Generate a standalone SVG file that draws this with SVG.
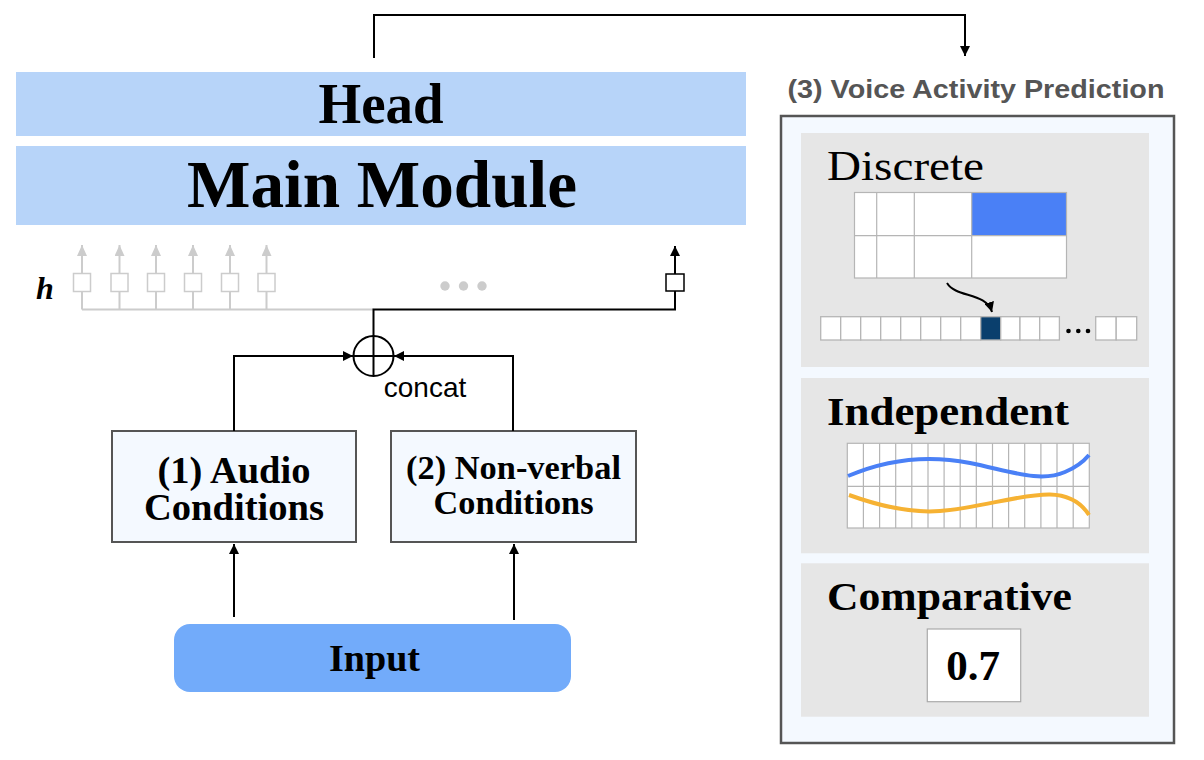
<svg xmlns="http://www.w3.org/2000/svg" width="1204" height="760" viewBox="0 0 1204 760">
  <style>
    .serif { font-family: "Liberation Serif", "Times New Roman", serif; }
    .sans { font-family: "Liberation Sans", Arial, sans-serif; }
    .bar { fill: #b7d4f9; }
    .cond { fill: #f4f9ff; stroke: #555555; stroke-width: 2; }
    .sub { fill: #e6e6e6; }
    .cell { fill: #ffffff; stroke: #b5b5b5; stroke-width: 1.3; }
    .gline { stroke: #b5b5b5; stroke-width: 1.2; fill: none; }
    .conn { stroke: #000000; stroke-width: 2; fill: none; }
    .gconn { stroke: #cccccc; stroke-width: 2; fill: none; }
    .gbox { fill: #ffffff; stroke: #cccccc; stroke-width: 1.5; }
    .bigtxt { font-weight: bold; fill: #000000; text-anchor: middle; }
  </style>
  <defs>
    <marker id="arr" viewBox="0 0 10 10" refX="10" refY="5" markerWidth="10" markerHeight="10" markerUnits="userSpaceOnUse" orient="auto">
      <path d="M0,0 L10,5 L0,10 Z" fill="#000000"/>
    </marker>
    <marker id="garr" viewBox="0 0 11 10" refX="11" refY="5" markerWidth="11" markerHeight="10" markerUnits="userSpaceOnUse" orient="auto">
      <path d="M0,0 L11,5 L0,10 Z" fill="#cccccc"/>
    </marker>
  </defs>

  <!-- Head -->
  <g id="head">
    <rect class="bar" x="16" y="72" width="730" height="64"/>
    <text class="serif bigtxt" x="381" y="123" font-size="56" textLength="125" lengthAdjust="spacingAndGlyphs">Head</text>
  </g>

  <!-- Main Module -->
  <g id="main-module">
    <rect class="bar" x="16" y="146" width="730" height="79"/>
    <text class="serif bigtxt" x="382" y="207" font-size="67" textLength="390" lengthAdjust="spacingAndGlyphs">Main Module</text>
  </g>

  <!-- hidden states -->
  <g id="hidden-states">
    <text class="serif" x="36" y="299" font-size="32" font-style="italic" font-weight="bold">h</text>
    <rect class="gbox" x="73.5" y="273.5" width="17" height="18"/>
    <rect class="gbox" x="111" y="273.5" width="17" height="18"/>
    <rect class="gbox" x="147.5" y="273.5" width="17" height="18"/>
    <rect class="gbox" x="184.5" y="273.5" width="17" height="18"/>
    <rect class="gbox" x="221.5" y="273.5" width="17" height="18"/>
    <rect class="gbox" x="258" y="273.5" width="17" height="18"/>
    <circle cx="445" cy="286" r="4.7" fill="#cccccc"/>
    <circle cx="463.5" cy="286" r="4.7" fill="#cccccc"/>
    <circle cx="482" cy="286" r="4.7" fill="#cccccc"/>
    <rect x="666" y="274" width="18" height="17" fill="#ffffff" stroke="#000000" stroke-width="1.5"/>
  </g>

  <!-- concat -->
  <g id="concat">
    <circle cx="373.5" cy="356" r="20" fill="#ffffff" stroke="#000000" stroke-width="2"/>
    <line x1="353.5" y1="356" x2="393.5" y2="356" stroke="#000000" stroke-width="2"/>
    <line x1="373.5" y1="336" x2="373.5" y2="376" stroke="#000000" stroke-width="2"/>
    <text class="sans" x="425" y="397" font-size="28" text-anchor="middle" fill="#000000">concat</text>
  </g>

  <!-- (1) Audio Conditions -->
  <g id="audio-conditions">
    <rect class="cond" x="112" y="431" width="244" height="111"/>
    <text class="serif bigtxt" x="234" y="483" font-size="37" textLength="153" lengthAdjust="spacingAndGlyphs">(1) Audio</text>
    <text class="serif bigtxt" x="234" y="520" font-size="37" textLength="180" lengthAdjust="spacingAndGlyphs">Conditions</text>
  </g>

  <!-- (2) Non-verbal Conditions -->
  <g id="nonverbal-conditions">
    <rect class="cond" x="391" y="431" width="245" height="111"/>
    <text class="serif bigtxt" x="513.5" y="479" font-size="34" textLength="215" lengthAdjust="spacingAndGlyphs">(2) Non-verbal</text>
    <text class="serif bigtxt" x="513.5" y="514" font-size="34" textLength="160" lengthAdjust="spacingAndGlyphs">Conditions</text>
  </g>

  <!-- Input -->
  <g id="input">
    <rect x="174" y="624" width="397" height="68" rx="16" fill="#72abfa"/>
    <text class="serif bigtxt" x="374.5" y="671" font-size="38" textLength="91" lengthAdjust="spacingAndGlyphs">Input</text>
  </g>

  <!-- (3) Voice Activity Prediction -->
  <g id="voice-activity-prediction">
    <text class="sans" x="976" y="98" font-size="26" font-weight="bold" fill="#555555" text-anchor="middle" textLength="377" lengthAdjust="spacingAndGlyphs">(3) Voice Activity Prediction</text>
    <rect x="781" y="116" width="393" height="627" fill="#f4f9ff" stroke="#555555" stroke-width="2.5"/>
  </g>

  <!-- Discrete -->
  <g id="discrete">
    <rect class="sub" x="801" y="133" width="348" height="234"/>
    <text class="serif" x="827" y="180" font-size="43" textLength="157" lengthAdjust="spacingAndGlyphs">Discrete</text>
    <rect x="854.5" y="192.5" width="212" height="85.5" fill="#ffffff"/>
    <rect x="971.7" y="192.5" width="94.8" height="43.2" fill="#4a80f6"/>
    <rect class="gline" x="854.5" y="192.5" width="212" height="85.5"/>
    <line class="gline" x1="876.7" y1="192.5" x2="876.7" y2="278"/>
    <line class="gline" x1="914.3" y1="192.5" x2="914.3" y2="278"/>
    <line class="gline" x1="971.7" y1="192.5" x2="971.7" y2="278"/>
    <line class="gline" x1="854.5" y1="235.7" x2="1066.5" y2="235.7"/>
    <path d="M947,283 C 956,298 986,292 992,312" fill="none" stroke="#000000" stroke-width="2" marker-end="url(#arr)"/>
    <g>
      <rect class="cell" x="820.7" y="316.7" width="20" height="23.3"/>
      <rect class="cell" x="840.7" y="316.7" width="20" height="23.3"/>
      <rect class="cell" x="860.7" y="316.7" width="20" height="23.3"/>
      <rect class="cell" x="880.7" y="316.7" width="20" height="23.3"/>
      <rect class="cell" x="900.7" y="316.7" width="20" height="23.3"/>
      <rect class="cell" x="920.7" y="316.7" width="20" height="23.3"/>
      <rect class="cell" x="940.7" y="316.7" width="20" height="23.3"/>
      <rect class="cell" x="960.7" y="316.7" width="20" height="23.3"/>
      <rect x="980.7" y="316.7" width="20" height="23.3" fill="#0a3f6d" stroke="#b5b5b5" stroke-width="1.3"/>
      <rect class="cell" x="1000.7" y="316.7" width="19.3" height="23.3"/>
      <rect class="cell" x="1020" y="316.7" width="19.7" height="23.3"/>
      <rect class="cell" x="1039.7" y="316.7" width="19.7" height="23.3"/>
      <circle cx="1068.5" cy="331" r="2.3" fill="#000000"/>
      <circle cx="1078.3" cy="331" r="2.3" fill="#000000"/>
      <circle cx="1088" cy="331" r="2.3" fill="#000000"/>
      <rect class="cell" x="1095.7" y="316.7" width="20.5" height="23.3"/>
      <rect class="cell" x="1116.2" y="316.7" width="20.5" height="23.3"/>
    </g>
  </g>

  <!-- Independent -->
  <g id="independent">
    <rect class="sub" x="801" y="378" width="348" height="175.3"/>
    <text class="serif" x="827" y="425" font-size="41" font-weight="bold" textLength="242" lengthAdjust="spacingAndGlyphs">Independent</text>
    <rect x="847.3" y="443.3" width="242" height="84.7" fill="#ffffff" stroke="#b5b5b5" stroke-width="1.2"/>
    <path class="gline" d="M863.4,443.3V528 M879.6,443.3V528 M895.7,443.3V528 M911.8,443.3V528 M928,443.3V528 M944.1,443.3V528 M960.2,443.3V528 M976.3,443.3V528 M992.5,443.3V528 M1008.6,443.3V528 M1024.7,443.3V528 M1040.9,443.3V528 M1057,443.3V528 M1073.2,443.3V528 M847.3,486.3H1089.3"/>
    <path d="M848,476 C 890,458 930,455 970,463 C 1010,471 1040,483 1065,472 C 1077,467 1084,461 1089,455" fill="none" stroke="#4a80f6" stroke-width="4"/>
    <path d="M849,495 C 885,508 915,513 940,511 C 980,508 1020,494 1050,494.5 C 1070,495 1082,504 1089,515" fill="none" stroke="#f6b233" stroke-width="4"/>
  </g>

  <!-- Comparative -->
  <g id="comparative">
    <rect class="sub" x="801" y="563.3" width="348" height="153.4"/>
    <text class="serif" x="827" y="610" font-size="41" font-weight="bold" textLength="245" lengthAdjust="spacingAndGlyphs">Comparative</text>
    <rect x="927.3" y="629" width="93.4" height="72.7" fill="#ffffff" stroke="#aaaaaa" stroke-width="1.2"/>
    <text class="serif bigtxt" x="973" y="680" font-size="43">0.7</text>
  </g>

  <!-- Connectors -->
  <g id="connectors">
    <!-- Head to Voice Activity Prediction -->
    <path class="conn" d="M374,58 V15 H965 V56" marker-end="url(#arr)"/>
    <!-- hidden states gray -->
    <path class="gconn" d="M82,309.5 H373.5"/>
    <path class="gconn" d="M82,309.5 V291.5 M119.5,309.5 V291.5 M156,309.5 V291.5 M193,309.5 V291.5 M230,309.5 V291.5 M266.5,309.5 V291.5"/>
    <path class="gconn" d="M82,273.5 V245" marker-end="url(#garr)"/>
    <path class="gconn" d="M119.5,273.5 V245" marker-end="url(#garr)"/>
    <path class="gconn" d="M156,273.5 V245" marker-end="url(#garr)"/>
    <path class="gconn" d="M193,273.5 V245" marker-end="url(#garr)"/>
    <path class="gconn" d="M230,273.5 V245" marker-end="url(#garr)"/>
    <path class="gconn" d="M266.5,273.5 V245" marker-end="url(#garr)"/>
    <!-- concat to last hidden state -->
    <path class="conn" d="M373.5,336 V309.5 H675 V291"/>
    <path class="conn" d="M675,274 V246" marker-end="url(#arr)"/>
    <!-- conditions to concat -->
    <path class="conn" d="M234,431 V356 H353" marker-end="url(#arr)"/>
    <path class="conn" d="M513,431 V356 H394" marker-end="url(#arr)"/>
    <!-- input to conditions -->
    <path class="conn" d="M234,617 V544" marker-end="url(#arr)"/>
    <path class="conn" d="M514,620 V544" marker-end="url(#arr)"/>
  </g>
</svg>
